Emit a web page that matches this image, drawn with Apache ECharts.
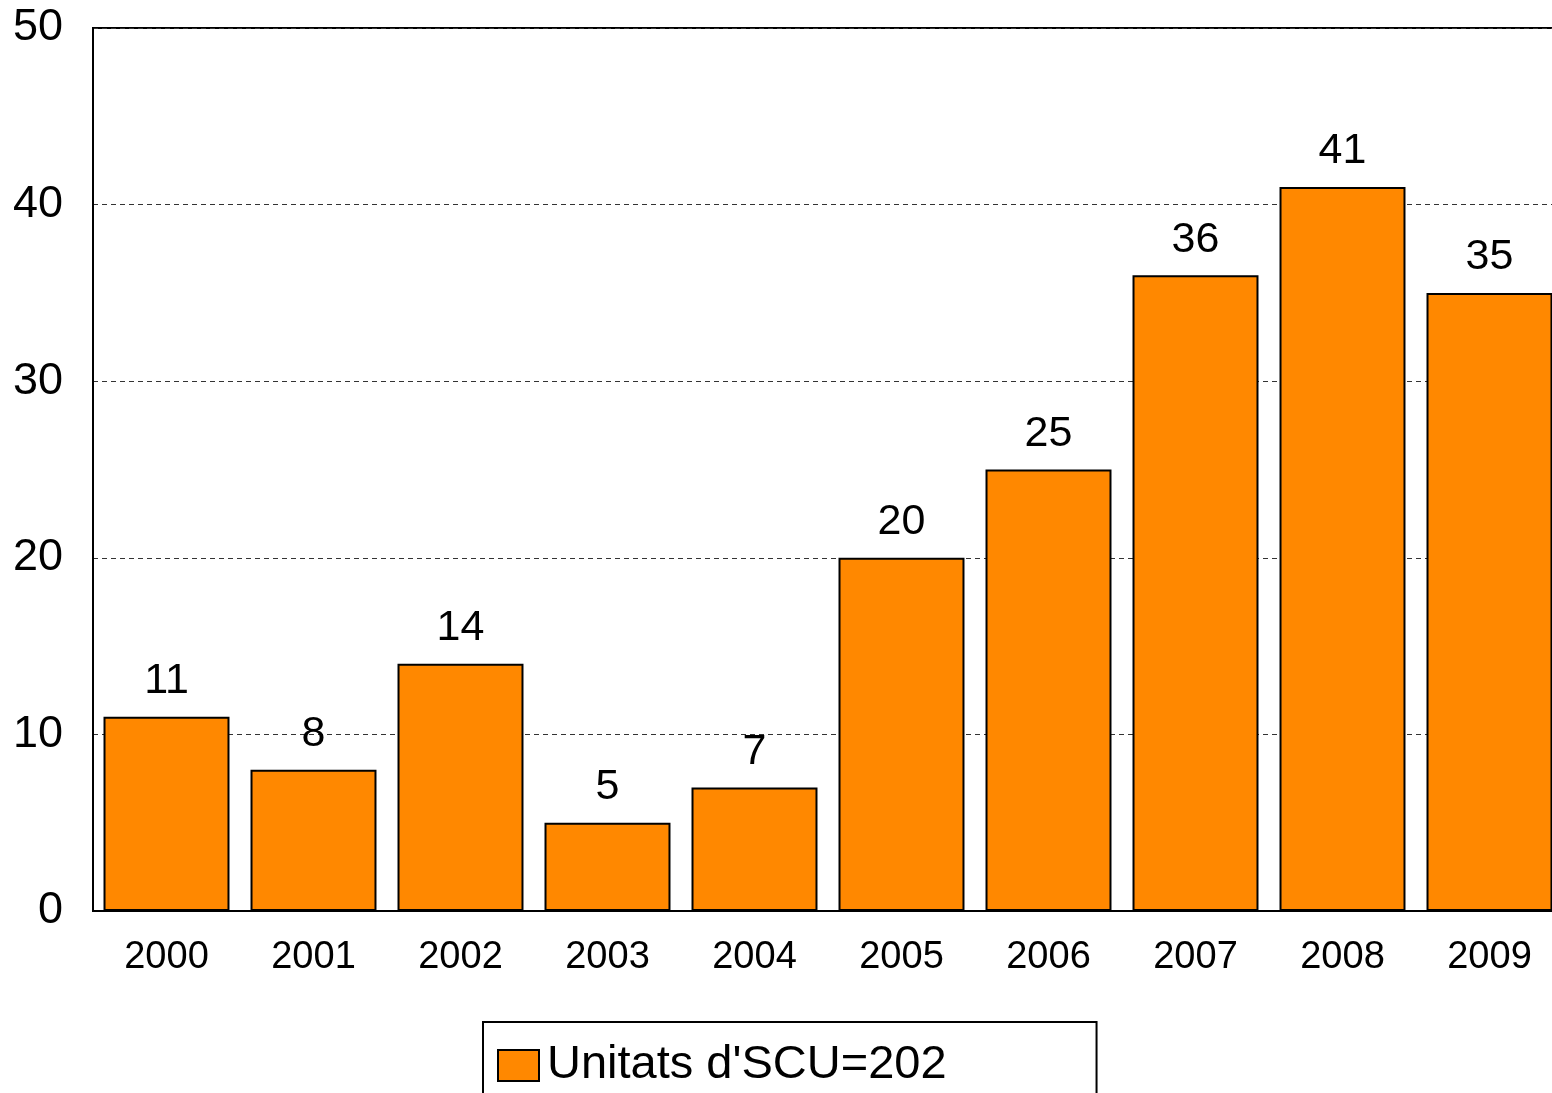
<!DOCTYPE html>
<html>
<head>
<meta charset="utf-8">
<script src="https://cdn.jsdelivr.net/npm/echarts@6/dist/echarts.min.js"></script>
<style>html,body{margin:0;padding:0;background:#fff;overflow:hidden;width:1552px;height:1093px;}#c{width:1600px;height:1093px;}</style>
</head>
<body>
<div id="c"></div>
<script>
const categories = ['2000','2001','2002','2003','2004','2005','2006','2007','2008','2009'];
const values = [11, 8, 14, 5, 7, 20, 25, 36, 41, 35];
const seriesName = "Unitats d'SCU=202";
const yTicks = [0, 10, 20, 30, 40, 50];

const chart = echarts.init(document.getElementById('c'), null, {renderer: 'canvas'});
const font = 'Liberation Sans, Arial, sans-serif';
chart.setOption({
  animation: false,
  backgroundColor: '#fff',
  grid: {
    left: 93, top: 28, width: 1470, height: 883,
    show: true, borderColor: '#000', borderWidth: 2, backgroundColor: 'transparent'
  },
  legend: {
    left: 483, top: 1022,
    padding: [20, 150, 20, 14],
    borderColor: '#000', borderWidth: 2,
    backgroundColor: '#fff',
    itemWidth: 41, itemHeight: 31,
    icon: 'rect',
    itemStyle: {borderColor: '#000', borderWidth: 2},
    textStyle: {fontFamily: font, fontSize: 47, color: '#000', padding: [0,0,0,3]},
    data: [seriesName]
  },
  xAxis: {
    type: 'category',
    data: categories,
    axisLine: {show: true, lineStyle: {color: '#000', width: 2}},
    axisTick: {show: false},
    axisLabel: {fontFamily: font, fontSize: 38, color: '#000', margin: 28}
  },
  yAxis: {
    type: 'value',
    min: 0, max: 50, interval: 10,
    axisLine: {show: true, lineStyle: {color: '#000', width: 2}},
    axisTick: {show: false},
    axisLabel: {fontFamily: font, fontSize: 45, color: '#000', margin: 30,
      formatter: v => yTicks.includes(v) ? String(v) : ''},
    splitLine: {show: true, lineStyle: {color: '#333', width: 1, type: [5, 4]}}
  },
  series: [{
    name: seriesName,
    type: 'bar',
    data: values,
    barCategoryGap: '14.3%',
    itemStyle: {color: '#FF8800', borderColor: '#000', borderWidth: 2},
    label: {show: true, position: 'top', distance: 14, fontFamily: font, fontSize: 43, color: '#000'}
  }]
});
</script>
</body>
</html>
